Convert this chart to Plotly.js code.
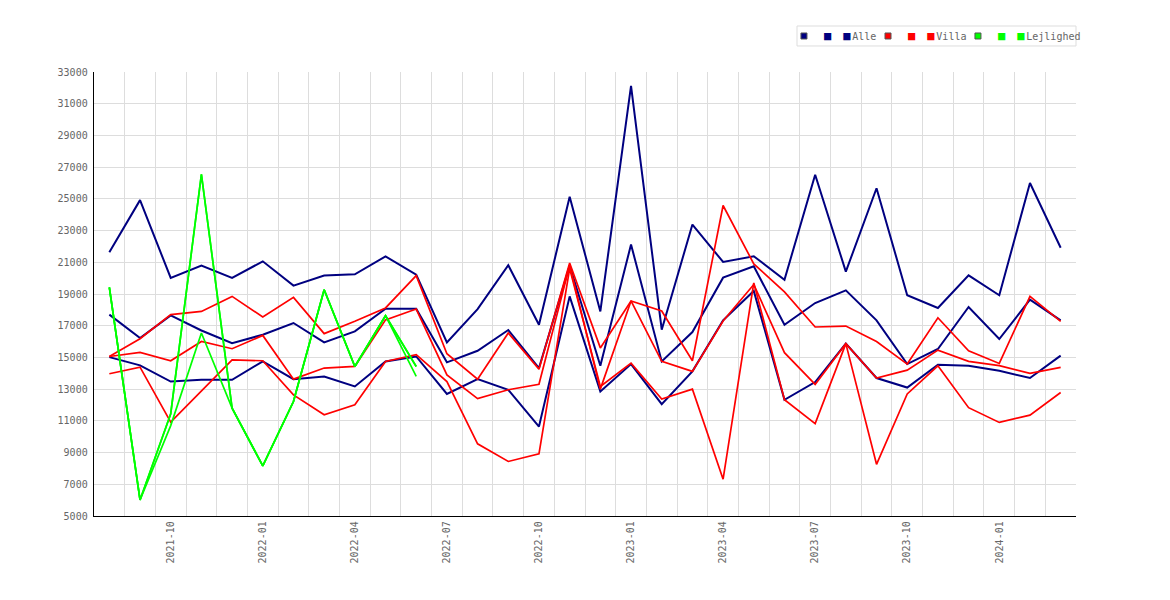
<!DOCTYPE html>
<html>
<head>
<meta charset="utf-8">
<script src="https://cdn.plot.ly/plotly-3.0.1.min.js"></script>
<style>
  html, body { margin: 0; padding: 0; background: #fff; }
  #chart { width: 1170px; height: 600px; }
</style>
</head>
<body>
<div id="chart"></div>
<script>
// ── Data ────────────────────────────────────────────────────────────────
const months = [
  '2021-08', '2021-09', '2021-10', '2021-11', '2021-12',
  '2022-01', '2022-02', '2022-03', '2022-04', '2022-05', '2022-06',
  '2022-07', '2022-08', '2022-09', '2022-10', '2022-11', '2022-12',
  '2023-01', '2023-02', '2023-03', '2023-04', '2023-05', '2023-06',
  '2023-07', '2023-08', '2023-09', '2023-10', '2023-11', '2023-12',
  '2024-01', '2024-02', '2024-03'
];

// Alle
const alleHigh = [21630, 24920, 20010, 20790, 20010, 21060, 19530, 20160, 20240, 21370, 20220,
                  15950, 18050, 20810, 17060, 25130, 17900, 32120, 16750, 23380, 21020, 21380,
                  19900, 26520, 20410, 25670, 18920, 18120, 20180, 18920, 26000, 21920];
const alleMid  = [17700, 16220, 17650, 16700, 15900, 16430, 17170, 15950, 16640, 18070, 18070,
                  14690, 15420, 16730, 14330, 20800, 14480, 22120, 14750, 16600, 20030, 20750,
                  17060, 18430, 19230, 17340, 14580, 15530, 18180, 16160, 18640, 17340];
const alleLow  = [15020, 14500, 13480, 13590, 13590, 14750, 13630, 13800, 13170, 14750, 15060,
                  12700, 13630, 12960, 10640, 18850, 12850, 14580, 12050, 14120, 17340, 19190,
                  12330, 13450, 15870, 13700, 13100, 14540, 14480, 14160, 13700, 15110];

// Villa
const villaHigh = [15060, 16180, 17700, 17900, 18850, 17550, 18790, 16500, 17280, 18120, 20160,
                   15230, 13630, 16540, 14260, 20950, 15600, 18560, 17930, 14790, 24580, 20900,
                   19130, 16920, 16980, 16000, 14580, 17500, 15420, 14620, 18850, 17270];
const villaMid  = [15060, 15320, 14790, 16010, 15550, 16390, 13630, 14330, 14430, 17370, 18050,
                   13900, 12400, 12960, 13310, 20800, 13000, 18560, 14750, 14120, 17300, 19600,
                   15300, 13300, 15870, 13700, 14200, 15460, 14750, 14480, 13990, 14370];
const villaLow  = [13970, 14390, 10920, 12900, 14850, 14790, 12640, 11380, 12010, 14750, 15170,
                   13480, 9550, 8440, 8920, 20600, 13170, 14640, 12370, 13000, 7320, 19700,
                   12330, 10830, 15870, 8260, 12700, 14470, 11830, 10900, 11360, 12790];

// Lejlighed (kun 2021-08 .. 2022-06)
const lejlA = [19420, 6010, 11450, 26540, 11800, 8160, 12220, 19270, 14430, 17630, 14430];
const lejlB = [19420, 6010, 11450, 26540, 11800, 8160, 12220, 19270, 14430, 17630, 13800];
const lejlC = [19420, 6010, 10700, 16540, 11800, 8160, 12220, 19270, 14430, 17630, 14430];

const groups = [
  { name: 'Alle',      color: '#000080', width: 2,   legend: 'legend',  lx: 0.7026, series: [alleHigh, alleMid, alleLow] },
  { name: 'Villa',     color: '#ff0000', width: 1.7, legend: 'legend2', lx: 0.7882, series: [villaHigh, villaMid, villaLow] },
  { name: 'Lejlighed', color: '#00ff00', width: 1.7, legend: 'legend3', lx: 0.8798, series: [lejlA, lejlB, lejlC] }
];

const FONT = 'DejaVu Sans Mono, monospace';
const TXT  = '#666666';

// ── Traces ──────────────────────────────────────────────────────────────
const sq = c => `<span style="color:${c};font-size:12px">■</span>`;
const traces = [];

groups.forEach(g => {
  g.series.forEach(vals => {
    traces.push({
      type: 'scatter',
      mode: 'lines',
      x: months.slice(0, vals.length),
      y: vals,
      line: { color: g.color, width: g.width },
      showlegend: false,
      hoverinfo: 'x+y'
    });
  });
});

// legendepunkter: en firkant som symbol + to firkanter i teksten
groups.forEach(g => {
  traces.push({
    type: 'scatter',
    mode: 'markers',
    x: [null],
    y: [null],
    name: sq(g.color) + '\u00a0\u00a0' + sq(g.color) + '<span style="font-size:3px">\u00a0</span>' + g.name,
    marker: { symbol: 'square', size: 6, color: g.color, line: { color: '#555555', width: 1 } },
    legend: g.legend,
    showlegend: true
  });
});

// ── Layout ──────────────────────────────────────────────────────────────
const legendBase = {
  orientation: 'h',
  xanchor: 'left',
  y: 1.0811, yanchor: 'middle',
  bgcolor: 'rgba(0,0,0,0)',
  borderwidth: 0,
  font: { family: FONT, size: 10, color: TXT }
};

const layout = {
  width: 1170,
  height: 600,
  margin: { l: 94, r: 94, t: 72, b: 84 },
  paper_bgcolor: '#ffffff',
  plot_bgcolor:  '#ffffff',
  font: { family: FONT, size: 10, color: TXT },
  showlegend: true,
  legend:  Object.assign({}, legendBase, { x: groups[0].lx }),
  legend2: Object.assign({}, legendBase, { x: groups[1].lx }),
  legend3: Object.assign({}, legendBase, { x: groups[2].lx }),
  // ramme om de tre legender
  shapes: [{
    type: 'rect', xref: 'paper', yref: 'paper',
    x0: 0.7159, x1: 1, y0: 1.0586, y1: 1.1036,
    line: { color: '#dddddd', width: 1 },
    fillcolor: 'rgba(0,0,0,0)',
    layer: 'below'
  }],
  xaxis: {
    type: 'category',
    range: [-0.5, months.length - 0.5],
    tickmode: 'array',
    tickvals: months,
    ticktext: months.map(m => /-(01|04|07|10)$/.test(m) ? m : ''),
    tickangle: -90,
    tickson: 'boundaries',
    ticks: '',
    tickfont: { family: FONT, size: 10, color: TXT },
    showgrid: true,
    gridcolor: '#dddddd',
    gridwidth: 1,
    showline: true,
    linecolor: '#000000',
    linewidth: 1.3,
    zeroline: false,
    fixedrange: true
  },
  yaxis: {
    range: [5000, 33000],
    tick0: 5000,
    dtick: 2000,
    tickformat: 'd',
    ticks: '',
    ticklabelstandoff: 3,
    tickfont: { family: FONT, size: 10, color: TXT },
    showgrid: true,
    gridcolor: '#dddddd',
    gridwidth: 1,
    showline: true,
    linecolor: '#000000',
    linewidth: 1.3,
    zeroline: false,
    fixedrange: true
  }
};

Plotly.newPlot('chart', traces, layout, { displayModeBar: false, staticPlot: true });
</script>
</body>
</html>
